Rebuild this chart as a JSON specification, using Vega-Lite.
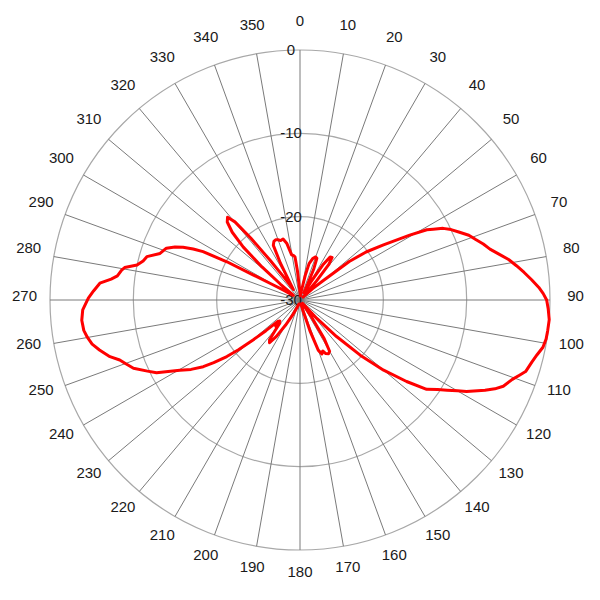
{
  "$schema": "https://vega.github.io/schema/vega-lite/v6.json",
  "width": 600,
  "height": 600,
  "padding": 0,
  "autosize": {"type": "none"},
  "config": {"view": {"stroke": null}, "text": {"font": "Liberation Sans", "fontSize": 15, "color": "#1a1a1a"}},
  "datasets": {
    "spokes": [
      {"angle": 0}, {"angle": 10}, {"angle": 20}, {"angle": 30}, {"angle": 40}, {"angle": 50},
      {"angle": 60}, {"angle": 70}, {"angle": 80}, {"angle": 90}, {"angle": 100}, {"angle": 110},
      {"angle": 120}, {"angle": 130}, {"angle": 140}, {"angle": 150}, {"angle": 160}, {"angle": 170},
      {"angle": 180}, {"angle": 190}, {"angle": 200}, {"angle": 210}, {"angle": 220}, {"angle": 230},
      {"angle": 240}, {"angle": 250}, {"angle": 260}, {"angle": 270}, {"angle": 280}, {"angle": 290},
      {"angle": 300}, {"angle": 310}, {"angle": 320}, {"angle": 330}, {"angle": 340}, {"angle": 350}
    ],
    "rings": [{"db": 0}, {"db": -10}, {"db": -20}, {"db": -30}],
    "pattern": [
      {"angle": 0, "db": -29}, {"angle": 4, "db": -29.5}, {"angle": 8, "db": -29}, {"angle": 12, "db": -27},
      {"angle": 14, "db": -25.5}, {"angle": 17, "db": -24.8}, {"angle": 20, "db": -24.5}, {"angle": 22, "db": -24.6},
      {"angle": 24, "db": -26}, {"angle": 26, "db": -28}, {"angle": 29, "db": -29}, {"angle": 31, "db": -27.5},
      {"angle": 33, "db": -25}, {"angle": 35, "db": -23.7}, {"angle": 37, "db": -23.6}, {"angle": 39, "db": -24.5},
      {"angle": 41, "db": -27}, {"angle": 43, "db": -29}, {"angle": 46, "db": -29.5}, {"angle": 48, "db": -28},
      {"angle": 50, "db": -26.5}, {"angle": 52, "db": -22.5}, {"angle": 54, "db": -20.2}, {"angle": 56.6, "db": -18},
      {"angle": 59.4, "db": -14.7}, {"angle": 61, "db": -12.6}, {"angle": 62, "db": -11.9}, {"angle": 63.4, "db": -10.8},
      {"angle": 65, "db": -10}, {"angle": 67, "db": -9.2}, {"angle": 69, "db": -8.3}, {"angle": 71, "db": -7.7},
      {"angle": 73, "db": -7}, {"angle": 75, "db": -6.4}, {"angle": 77, "db": -5.5}, {"angle": 79, "db": -4.5},
      {"angle": 81, "db": -3.7}, {"angle": 83, "db": -2.9}, {"angle": 85, "db": -2.1}, {"angle": 87, "db": -1.3},
      {"angle": 88.5, "db": -0.8}, {"angle": 90, "db": -0.4}, {"angle": 92, "db": -0.2}, {"angle": 94.5, "db": 0},
      {"angle": 97, "db": -0.05}, {"angle": 99, "db": -0.1}, {"angle": 101, "db": -0.3}, {"angle": 103, "db": -0.8},
      {"angle": 105, "db": -1.2}, {"angle": 107.6, "db": -1.6}, {"angle": 109, "db": -2.2}, {"angle": 110.5, "db": -2.8},
      {"angle": 113, "db": -3.5}, {"angle": 114.5, "db": -4.3}, {"angle": 116, "db": -5.3}, {"angle": 118.8, "db": -7.2},
      {"angle": 120, "db": -8.2}, {"angle": 121.5, "db": -9.3}, {"angle": 123, "db": -10.3}, {"angle": 125.2, "db": -11.4},
      {"angle": 127.4, "db": -13.9}, {"angle": 130, "db": -16.9}, {"angle": 132.5, "db": -20.2}, {"angle": 135, "db": -23.8},
      {"angle": 137.6, "db": -27}, {"angle": 140, "db": -29}, {"angle": 144, "db": -29.5}, {"angle": 146, "db": -27.5},
      {"angle": 148, "db": -24.5}, {"angle": 150, "db": -22.9}, {"angle": 152, "db": -22.7}, {"angle": 154.5, "db": -22.9},
      {"angle": 156, "db": -23.3}, {"angle": 158, "db": -23}, {"angle": 160, "db": -23.6}, {"angle": 162, "db": -26},
      {"angle": 164, "db": -28.5}, {"angle": 168, "db": -29.5}, {"angle": 175, "db": -29.5}, {"angle": 185, "db": -29.5},
      {"angle": 195, "db": -29.5}, {"angle": 202, "db": -29}, {"angle": 206, "db": -28}, {"angle": 210, "db": -26.5},
      {"angle": 213, "db": -24.8}, {"angle": 215.5, "db": -23.7}, {"angle": 217.5, "db": -24}, {"angle": 219, "db": -25.2},
      {"angle": 221, "db": -26.3}, {"angle": 222.5, "db": -25.7}, {"angle": 224, "db": -26.5}, {"angle": 226, "db": -26.3},
      {"angle": 228, "db": -24.5}, {"angle": 229.6, "db": -22.6}, {"angle": 231, "db": -20.5}, {"angle": 232.3, "db": -18.9},
      {"angle": 234, "db": -17.2}, {"angle": 235.4, "db": -15.9}, {"angle": 237.5, "db": -14.5}, {"angle": 239.7, "db": -13.3},
      {"angle": 241.5, "db": -12}, {"angle": 243.1, "db": -10.7}, {"angle": 245, "db": -9.8}, {"angle": 247.7, "db": -8.4},
      {"angle": 250, "db": -7.7}, {"angle": 251.6, "db": -7.2}, {"angle": 253.4, "db": -6.2}, {"angle": 256, "db": -5.2},
      {"angle": 258, "db": -4.5}, {"angle": 260, "db": -4.1}, {"angle": 262, "db": -3.8}, {"angle": 264.7, "db": -3.7},
      {"angle": 267.4, "db": -3.9}, {"angle": 270.5, "db": -4.6}, {"angle": 272.5, "db": -5.2}, {"angle": 274.8, "db": -5.9},
      {"angle": 276.3, "db": -7.2}, {"angle": 277.5, "db": -7.9}, {"angle": 279.5, "db": -8.3}, {"angle": 280.5, "db": -8.6},
      {"angle": 282.1, "db": -10}, {"angle": 284, "db": -10.6}, {"angle": 285.8, "db": -10.9}, {"angle": 288.4, "db": -12.3},
      {"angle": 291.2, "db": -12.8}, {"angle": 293, "db": -13.7}, {"angle": 294.3, "db": -14.6}, {"angle": 295.5, "db": -15.8},
      {"angle": 296.5, "db": -17}, {"angle": 297.6, "db": -20.1}, {"angle": 298.2, "db": -23.6}, {"angle": 299.2, "db": -26},
      {"angle": 300.9, "db": -27.7}, {"angle": 303, "db": -29}, {"angle": 306, "db": -29}, {"angle": 309, "db": -27},
      {"angle": 311, "db": -24}, {"angle": 313, "db": -20.7}, {"angle": 315, "db": -18.5}, {"angle": 317, "db": -17.2},
      {"angle": 318.8, "db": -16.8}, {"angle": 320.2, "db": -17.8}, {"angle": 321.5, "db": -20.5}, {"angle": 323, "db": -24},
      {"angle": 325, "db": -26.8}, {"angle": 327.5, "db": -28.5}, {"angle": 330, "db": -27.5}, {"angle": 332, "db": -25},
      {"angle": 334, "db": -22.7}, {"angle": 336, "db": -22.3}, {"angle": 338, "db": -22.2}, {"angle": 340, "db": -22.3},
      {"angle": 342, "db": -22.5}, {"angle": 344.5, "db": -22.4}, {"angle": 346.8, "db": -23}, {"angle": 349.5, "db": -24.5},
      {"angle": 351.5, "db": -24.6}, {"angle": 353.4, "db": -24.8}, {"angle": 355, "db": -26.5}, {"angle": 357, "db": -28.5},
      {"angle": 360, "db": -29}
    ]
  },
  "layer": [
    {
      "data": {"name": "rings"},
      "transform": [{"filter": "datum.db > -30"}, {"calculate": "datum.db + 30", "as": "ry"}],
      "mark": {"type": "point", "shape": "circle", "filled": false, "stroke": "#a8a8a8", "strokeWidth": 1.2, "opacity": 1},
      "encoding": {
        "x": {"datum": 0, "type": "quantitative", "scale": {"domain": [-36, 36], "nice": false, "zero": false}, "axis": null},
        "y": {"datum": 0, "type": "quantitative", "scale": {"domain": [-36, 36], "nice": false, "zero": false}, "axis": null},
        "size": {"field": "ry", "type": "quantitative", "scale": {"type": "pow", "exponent": 2, "domain": [0, 30], "range": [0, 250000]}, "legend": null}
      }
    },
    {
      "data": {"name": "spokes"},
      "transform": [
        {"calculate": "30*sin(datum.angle*PI/180)", "as": "sx"},
        {"calculate": "30*cos(datum.angle*PI/180)", "as": "sy"}
      ],
      "mark": {"type": "rule", "stroke": "#7a7a7a", "strokeWidth": 1},
      "encoding": {
        "x": {"field": "sx", "type": "quantitative"},
        "y": {"field": "sy", "type": "quantitative"},
        "x2": {"datum": 0},
        "y2": {"datum": 0}
      }
    },
    {
      "data": {"name": "spokes"},
      "transform": [
        {"calculate": "33.06*sin(datum.angle*PI/180)", "as": "lx"},
        {"calculate": "33.06*cos(datum.angle*PI/180)", "as": "ly"}
      ],
      "mark": {"type": "text", "align": "center", "baseline": "middle", "dy": -4},
      "encoding": {
        "x": {"field": "lx", "type": "quantitative"},
        "y": {"field": "ly", "type": "quantitative"},
        "text": {"field": "angle", "type": "nominal"}
      }
    },
    {
      "data": {"name": "rings"},
      "transform": [{"calculate": "datum.db + 30", "as": "ry"}],
      "mark": {"type": "text", "align": "center", "baseline": "middle", "dx": -9},
      "encoding": {
        "x": {"datum": 0, "type": "quantitative"},
        "y": {"field": "ry", "type": "quantitative"},
        "text": {"field": "db", "type": "nominal"}
      }
    },
    {
      "data": {"name": "pattern"},
      "transform": [
        {"calculate": "(datum.db + 30)*sin(datum.angle*PI/180)", "as": "px"},
        {"calculate": "(datum.db + 30)*cos(datum.angle*PI/180)", "as": "py"}
      ],
      "mark": {"type": "line", "color": "#ff0000", "strokeWidth": 3, "strokeJoin": "round"},
      "encoding": {
        "x": {"field": "px", "type": "quantitative"},
        "y": {"field": "py", "type": "quantitative"},
        "order": {"field": "angle", "type": "quantitative"}
      }
    }
  ]
}
